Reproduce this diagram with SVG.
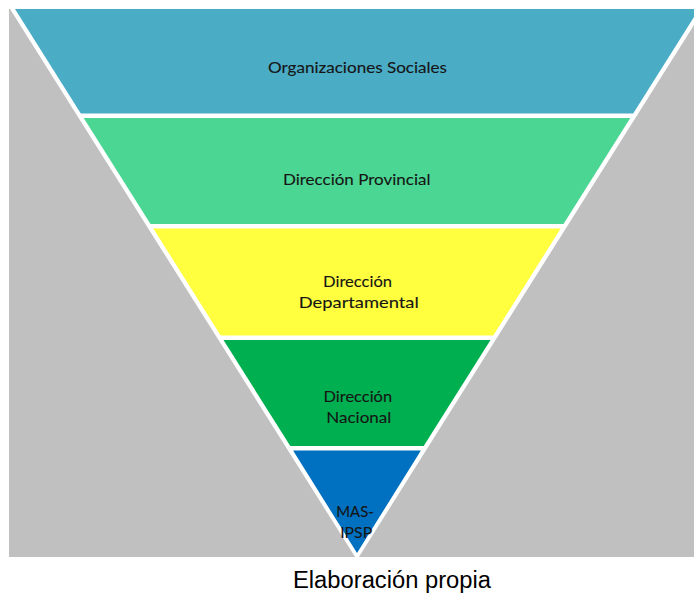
<svg xmlns="http://www.w3.org/2000/svg" width="694" height="593" viewBox="0 0 694 593">
  <style>
    .lbl { font-family: Lato, "Open Sans", sans-serif; font-size: 15.8px; fill: #151515; stroke: #151515; stroke-width: 0.12px; text-anchor: middle; }
    .cap { font-family: "Liberation Sans", Arial, sans-serif; font-size: 23.5px; fill: #000; text-anchor: middle; }
  </style>
  <rect x="0" y="0" width="694" height="593" fill="#ffffff"/>
  <g id="background">
    <rect x="9" y="9" width="685" height="548" fill="#c0c0c0"/>
    <polygon points="10,9 704,9 357,560" fill="#ffffff"/>
  </g>
  <g id="organizaciones-sociales">
    <polygon points="15,9 699,9 633.2,113.5 80.8,113.5" fill="#4bacc6"/>
    <text class="lbl" x="357.5" y="73" textLength="179" lengthAdjust="spacingAndGlyphs">Organizaciones Sociales</text>
  </g>
  <g id="direccion-provincial">
    <polygon points="83.7,118 630.3,118 563.5,224 150.5,224" fill="#4cd694"/>
    <text class="lbl" x="356.7" y="185" textLength="147.5" lengthAdjust="spacingAndGlyphs">Dirección Provincial</text>
  </g>
  <g id="direccion-departamental">
    <polygon points="153.3,228.5 560.7,228.5 493.3,335.5 220.7,335.5" fill="#ffff40"/>
    <text class="lbl" x="357.5" y="286.7" textLength="69" lengthAdjust="spacingAndGlyphs">Dirección</text>
    <text class="lbl" x="358.8" y="308.3" textLength="120" lengthAdjust="spacingAndGlyphs">Departamental</text>
  </g>
  <g id="direccion-nacional">
    <polygon points="223.5,340 490.5,340 423.7,446 290.3,446" fill="#00b050"/>
    <text class="lbl" x="357.8" y="401.7" textLength="68.5" lengthAdjust="spacingAndGlyphs">Dirección</text>
    <text class="lbl" x="358.8" y="422.7" textLength="65" lengthAdjust="spacingAndGlyphs">Nacional</text>
  </g>
  <g id="mas-ipsp">
    <polygon points="293.1,450.5 420.9,450.5 357,553" fill="#0070c0"/>
    <text class="lbl" x="355" y="516.7" textLength="37.5" lengthAdjust="spacingAndGlyphs">MAS-</text>
    <text class="lbl" x="356.2" y="537.7" textLength="32" lengthAdjust="spacingAndGlyphs">IPSP</text>
  </g>
  <g id="caption">
    <text class="cap" x="392" y="588.3" textLength="198" lengthAdjust="spacingAndGlyphs">Elaboración propia</text>
  </g>
</svg>
